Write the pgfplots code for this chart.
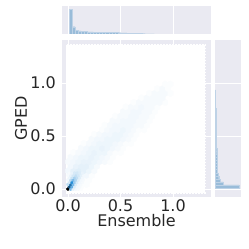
\documentclass[border=0pt]{standalone}
\usepackage{pgfplots}
\pgfplotsset{compat=1.18}
\usepackage{fontspec}
\setmainfont{DejaVu Sans}
\definecolor{sbbg}{RGB}{234,234,242}
\definecolor{sbtext}{RGB}{38,38,38}
\definecolor{histfill}{RGB}{153,188,217}
\definecolor{histedge}{RGB}{190,210,230}
\newcommand{\tl}[1]{{\fontsize{16}{19}\selectfont\color{sbtext}#1}}
\pgfdeclareplotmark{hexagon}{%
  \pgfpathmoveto{\pgfqpointpolar{90}{\pgfplotmarksize}}%
  \pgfpathlineto{\pgfqpointpolar{150}{\pgfplotmarksize}}%
  \pgfpathlineto{\pgfqpointpolar{210}{\pgfplotmarksize}}%
  \pgfpathlineto{\pgfqpointpolar{270}{\pgfplotmarksize}}%
  \pgfpathlineto{\pgfqpointpolar{330}{\pgfplotmarksize}}%
  \pgfpathlineto{\pgfqpointpolar{30}{\pgfplotmarksize}}%
  \pgfpathclose
  \pgfusepathqfillstroke}
\pgfplotsset{
  sbstyle/.style={
    scale only axis,
    axis background/.style={fill=sbbg},
    axis line style={draw=none},
    major tick length=0pt,
    grid style={white, line width=0.8pt},
    /pgf/number format/assume math mode=true,
  }
}
\begin{document}
\begin{tikzpicture}
\useasboundingbox (0,0) rectangle (249pt,249pt);
% main axis
\begin{axis}[sbstyle,
  at={(62pt,52pt)}, anchor=south west,
  width=149pt, height=157pt,
  xmin=-0.057, xmax=1.362, ymin=-0.075, ymax=1.406,
  xtick={0,0.5,1}, ytick={0,0.5,1},
  grid=major,
  xticklabels={\tl{0.0},\tl{0.5},\tl{1.0}}, yticklabels={\tl{0.0},\tl{0.5},\tl{1.0}},
  xticklabel style={inner sep=2pt},
  yticklabel style={inner sep=2pt, xshift=-4pt},
  xlabel={\tl{Ensemble}}, ylabel={\tl{GPED}},
  xlabel style={inner sep=1pt},
  ylabel style={inner sep=1pt},
  colormap={seahex}{rgb255(0cm)=(255,255,255) rgb255(1cm)=(211,232,247) rgb255(2cm)=(168,210,240) rgb255(3cm)=(124,187,233) rgb255(4cm)=(81,165,225) rgb255(5cm)=(37,143,218) rgb255(6cm)=(30,114,174) rgb255(7cm)=(22,86,131) rgb255(8cm)=(15,57,87) rgb255(9cm)=(8,29,44) rgb255(10cm)=(0,0,0)},
  point meta min=0, point meta max=100,
  scatter/use mapped color={draw=mapped color, fill=mapped color},
]
\addplot[fill=white, draw=white, line width=1.5pt, dash pattern=on 1.8pt off 1.2pt] coordinates {(-0.015,-0.035) (1.305,-0.035) (1.305,1.36) (-0.015,1.36)} -- cycle;
\addplot[fill=white, draw=none] coordinates {(-0.015,-0.035) (1.305,-0.035) (1.305,1.36) (-0.015,1.36)} -- cycle;
% coarse hexes
\addplot[scatter, only marks, mark=hexagon, mark size=3.1pt, line width=0.3pt, scatter src=explicit] table[meta=c] {
x y c
0.175 0.043 1
0.20 0.086 1
0.175 0.129 3
0.225 0.129 1
0 0.172 3
0.05 0.172 6
0.10 0.172 7
0.15 0.172 6
0.20 0.172 4
0.25 0.172 2
0.025 0.215 3
0.075 0.215 5
0.125 0.215 6
0.175 0.215 6
0.225 0.215 4
0.275 0.215 2
0.0 0.258 2
0.05 0.258 3
0.10 0.258 4
0.15 0.258 5
0.20 0.258 5
0.25 0.258 4
0.30 0.258 3
0.35 0.258 2
0.40 0.258 1
0.025 0.301 2
0.075 0.301 3
0.125 0.301 4
0.175 0.301 4
0.225 0.301 5
0.275 0.301 4
0.325 0.301 3
0.375 0.301 2
0.425 0.301 1
0.05 0.344 1
0.10 0.344 2
0.15 0.344 3
0.20 0.344 4
0.25 0.344 5
0.30 0.344 4
0.35 0.344 4
0.40 0.344 2
0.45 0.344 1
0.50 0.344 1
0.125 0.387 2
0.175 0.387 3
0.225 0.387 4
0.275 0.387 4
0.325 0.387 5
0.375 0.387 4
0.425 0.387 3
0.475 0.387 2
0.525 0.387 1
0.15 0.43 1
0.20 0.43 2
0.25 0.43 3
0.30 0.43 4
0.35 0.43 4
0.40 0.43 4
0.45 0.43 3
0.50 0.43 2
0.55 0.43 1
0.60 0.43 1
0.225 0.473 2
0.275 0.473 3
0.325 0.473 3
0.375 0.473 4
0.425 0.473 4
0.475 0.473 4
0.525 0.473 3
0.575 0.473 2
0.625 0.473 1
0.25 0.516 1
0.30 0.516 2
0.35 0.516 3
0.40 0.516 3
0.45 0.516 4
0.50 0.516 4
0.55 0.516 3
0.60 0.516 2
0.65 0.516 1
0.325 0.559 1
0.375 0.559 2
0.425 0.559 3
0.475 0.559 3
0.525 0.559 4
0.575 0.559 3
0.625 0.559 2
0.675 0.559 1
0.725 0.559 1
0.35 0.602 1
0.40 0.602 2
0.45 0.602 3
0.50 0.602 3
0.55 0.602 3
0.60 0.602 3
0.65 0.602 2
0.70 0.602 2
0.75 0.602 1
0.425 0.645 2
0.475 0.645 2
0.525 0.645 3
0.575 0.645 3
0.625 0.645 3
0.675 0.645 2
0.725 0.645 2
0.775 0.645 1
0.45 0.688 1
0.50 0.688 2
0.55 0.688 2
0.60 0.688 3
0.65 0.688 3
0.70 0.688 2
0.75 0.688 2
0.80 0.688 1
0.525 0.731 2
0.575 0.731 2
0.625 0.731 3
0.675 0.731 3
0.725 0.731 2
0.775 0.731 2
0.825 0.731 1
0.55 0.774 1
0.60 0.774 2
0.65 0.774 2
0.70 0.774 3
0.75 0.774 2
0.80 0.774 2
0.85 0.774 1
0.625 0.817 1
0.675 0.817 2
0.725 0.817 2
0.775 0.817 2
0.825 0.817 2
0.875 0.817 2
0.925 0.817 1
0.70 0.86 1
0.75 0.86 2
0.80 0.86 2
0.85 0.86 2
0.90 0.86 2
0.775 0.903 1
0.825 0.903 2
0.875 0.903 2
0.925 0.903 2
0.975 0.903 1
0.85 0.946 1
0.90 0.946 2
0.95 0.946 1
0.925 0.989 1
0.975 0.989 1
};
% fine hexes near the origin
\addplot[scatter, only marks, mark=hexagon, mark size=1.56pt, line width=0.3pt, scatter src=explicit] table[meta=c] {
x y c
0 0 100
0.025 0 30
0.05 0 6
0.075 0 3
0.1 0 2
0.125 0 1
0.0125 0.0215 70
0.0375 0.0215 35
0.0625 0.0215 8
0.0875 0.0215 3
0.1125 0.0215 2
0.1375 0.0215 1
0 0.043 15
0.025 0.043 60
0.05 0.043 30
0.075 0.043 8
0.1 0.043 3
0.125 0.043 2
0.15 0.043 1
0.0125 0.0645 10
0.0375 0.0645 50
0.0625 0.0645 22
0.0875 0.0645 8
0.1125 0.0645 3
0.1375 0.0645 2
0 0.086 3
0.025 0.086 15
0.05 0.086 30
0.075 0.086 18
0.1 0.086 7
0.125 0.086 3
0.15 0.086 2
0.0125 0.1075 4
0.0375 0.1075 12
0.0625 0.1075 20
0.0875 0.1075 14
0.1125 0.1075 7
0.1375 0.1075 3
0 0.129 2
0.025 0.129 5
0.05 0.129 10
0.075 0.129 14
0.1 0.129 10
0.125 0.129 6
0.15 0.129 3
0.0125 0.1505 2
0.0375 0.1505 5
0.0625 0.1505 9
0.0875 0.1505 10
0.1125 0.1505 8
0.1375 0.1505 5
};
\end{axis}
% top marginal
\begin{axis}[sbstyle,
  at={(62pt,215pt)}, anchor=south west,
  width=149pt, height=28pt,
  xmin=-0.057, xmax=1.362, ymin=0, ymax=114,
  xtick={0,0.5,1}, ytick=\empty, xticklabels={}, xmajorgrids=true,
]
\addplot[ybar interval, fill=histfill, draw=histedge, line width=0.2pt] coordinates {
(0.010,100) (0.039,30) (0.068,16) (0.097,13) (0.126,11) (0.155,10) (0.184,9) (0.213,8.5) (0.242,8) (0.271,8) (0.300,7.5) (0.329,7) (0.358,7.5) (0.387,6.5) (0.416,6) (0.445,6) (0.474,5.5) (0.503,5) (0.532,4.5) (0.561,4) (0.590,3.5) (0.619,3) (0.648,2.5) (0.677,2) (0.706,1.5) (0.735,1) (0.764,0.6) (0.793,0.3) (0.822,0)
};
\end{axis}
% right marginal
\begin{axis}[sbstyle,
  at={(215pt,52pt)}, anchor=south west,
  width=26pt, height=157pt,
  xmin=0, xmax=108, ymin=-0.075, ymax=1.406,
  ytick={0,0.5,1}, xtick=\empty, yticklabels={}, ymajorgrids=true,
]
\addplot[xbar interval, fill=histfill, draw=histedge, line width=0.2pt] coordinates {
(100,0.010) (35,0.039) (20,0.068) (15,0.097) (12,0.126) (10.5,0.155) (9.5,0.184) (9,0.213) (8.5,0.242) (8,0.271) (7.5,0.300) (7,0.329) (7,0.358) (6.5,0.387) (6,0.416) (6,0.445) (5.5,0.474) (5,0.503) (5,0.532) (4.5,0.561) (4,0.590) (4,0.619) (3.5,0.648) (3,0.677) (3,0.706) (2.5,0.735) (2,0.764) (2,0.793) (1.5,0.822) (1,0.851) (0.8,0.880) (0.5,0.909) (0,0.938)
};
\end{axis}
\end{tikzpicture}
\end{document}
